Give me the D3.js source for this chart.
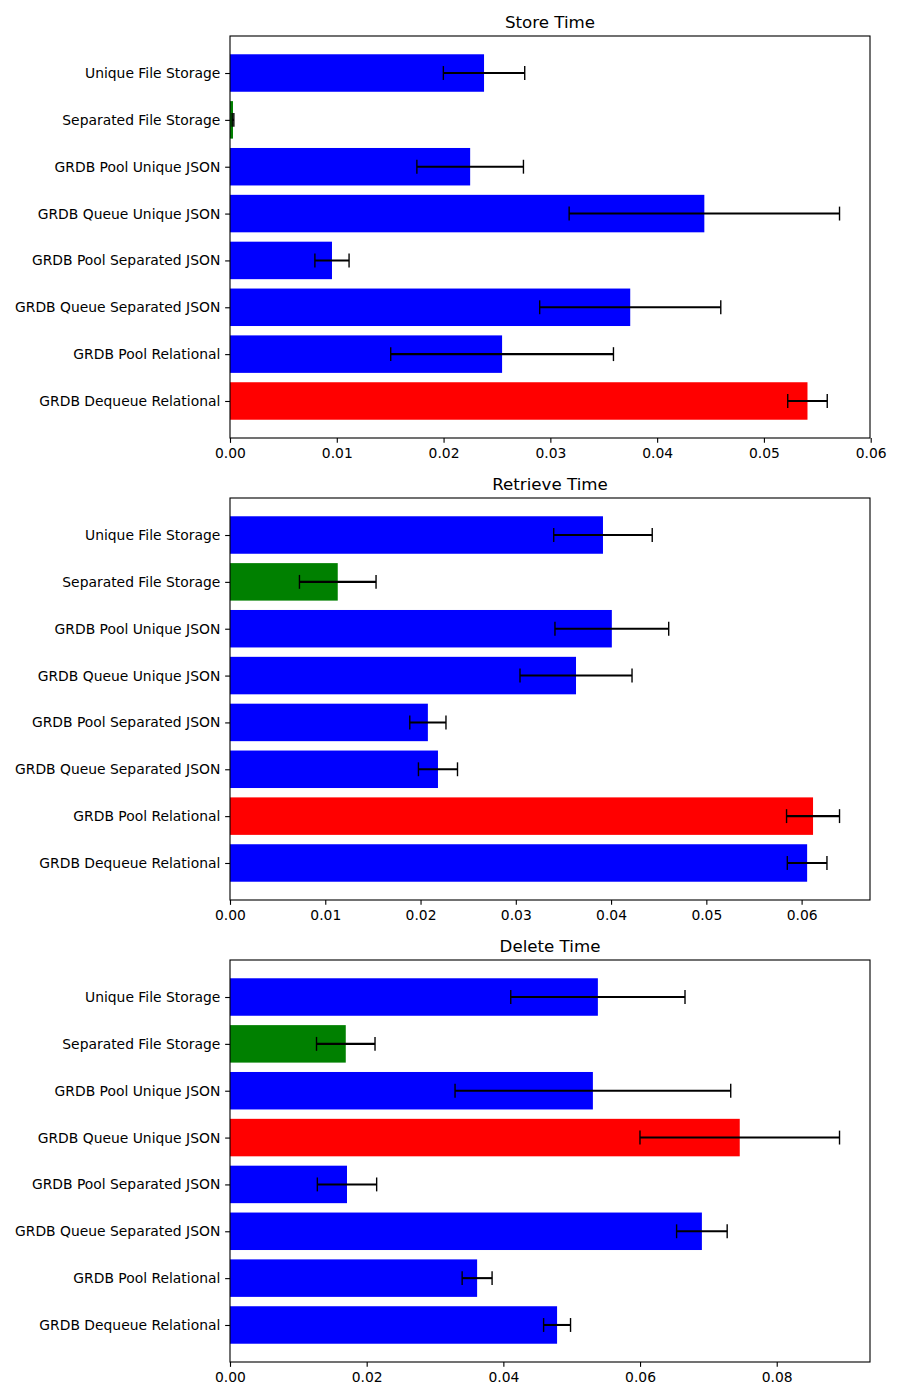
<!DOCTYPE html>
<html>
<head>
<meta charset="utf-8">
<script src="https://cdn.jsdelivr.net/npm/d3@7"></script>
<style>
  html, body { margin: 0; padding: 0; background: #fff; }
  svg { display: block; font-family: "DejaVu Sans", sans-serif; }
</style>
</head>
<body>
<svg id="chart" width="900" height="1400"></svg>
<script>
const categories = [
  "Unique File Storage",
  "Separated File Storage",
  "GRDB Pool Unique JSON",
  "GRDB Queue Unique JSON",
  "GRDB Pool Separated JSON",
  "GRDB Queue Separated JSON",
  "GRDB Pool Relational",
  "GRDB Dequeue Relational"
];

const titles = ["Store Time", "Retrieve Time", "Delete Time"];

const storeMeans = [0.02379, 0.00028, 0.02249, 0.04442, 0.00955, 0.03748, 0.02548, 0.05408];
const storeErrs  = [0.00381, 0.00008, 0.00499, 0.01266, 0.00160, 0.00848, 0.01043, 0.00185];

const retrieveMeans = [0.03915, 0.01131, 0.04008, 0.03632, 0.02077, 0.02183, 0.06120, 0.06058];
const retrieveErrs  = [0.00517, 0.00402, 0.00597, 0.00588, 0.00190, 0.00205, 0.00278, 0.00208];

const deleteMeans = [0.05383, 0.01694, 0.05310, 0.07459, 0.01712, 0.06905, 0.03616, 0.04786];
const deleteErrs  = [0.01275, 0.00428, 0.02017, 0.01460, 0.00434, 0.00370, 0.00219, 0.00197];

const storeTicks = [0, 0.01, 0.02, 0.03, 0.04, 0.05, 0.06];
const retrieveTicks = [0, 0.01, 0.02, 0.03, 0.04, 0.05, 0.06];
const deleteTicks = [0, 0.02, 0.04, 0.06, 0.08];

const panels = [
  { title: titles[0], means: storeMeans, errs: storeErrs, ticks: storeTicks, fmt: d3.format(".2f") },
  { title: titles[1], means: retrieveMeans, errs: retrieveErrs, ticks: retrieveTicks, fmt: d3.format(".2f") },
  { title: titles[2], means: deleteMeans, errs: deleteErrs, ticks: deleteTicks, fmt: d3.format(".2f") }
];

const svg = d3.select("#chart");
const left = 230, right = 870;
const tops = [36, 498, 960];
const axH = 402;
const fontPx = 13.89;
const tickLen = 4.86;

panels.forEach((p, pi) => {
  const top = tops[pi];
  const bottom = top + axH;
  const maxV = d3.max(p.means.map((m, i) => m + p.errs[i]));
  const x = d3.scaleLinear().domain([0, maxV * 1.05]).range([left, right]);
  const n = categories.length;
  const y = d3.scaleLinear().domain([-0.79, n - 1 + 0.79]).range([top, bottom]);

  const maxIdx = p.means.indexOf(d3.max(p.means));
  const minIdx = p.means.indexOf(d3.min(p.means));
  const color = i => i === maxIdx ? "#ff0000" : (i === minIdx ? "#008000" : "#0000ff");

  const g = svg.append("g");

  // bars
  g.selectAll("rect.bar").data(p.means).enter().append("rect")
    .attr("class", "bar")
    .attr("x", x(0))
    .attr("y", (d, i) => y(i - 0.4))
    .attr("width", d => x(d) - x(0))
    .attr("height", (d, i) => y(i + 0.4) - y(i - 0.4))
    .attr("fill", (d, i) => color(i));

  // error bars
  const eb = g.selectAll("g.err").data(p.means).enter().append("g").attr("class", "err");
  eb.append("line")
    .attr("x1", (d, i) => x(d - p.errs[i]))
    .attr("x2", (d, i) => x(d + p.errs[i]))
    .attr("y1", (d, i) => y(i)).attr("y2", (d, i) => y(i))
    .attr("stroke", "#000").attr("stroke-width", 2.08);
  [-1, 1].forEach(s => {
    eb.append("line")
      .attr("x1", (d, i) => x(d + s * p.errs[i]))
      .attr("x2", (d, i) => x(d + s * p.errs[i]))
      .attr("y1", (d, i) => y(i) - 6.95).attr("y2", (d, i) => y(i) + 6.95)
      .attr("stroke", "#000").attr("stroke-width", 1.39);
  });

  // x axis
  const xAxis = d3.axisBottom(x).tickValues(p.ticks).tickFormat(p.fmt)
    .tickSizeInner(tickLen).tickSizeOuter(0).tickPadding(4.86);
  const xg = g.append("g").attr("transform", `translate(0,${bottom})`).call(xAxis);
  xg.select(".domain").remove();
  xg.selectAll(".tick line").attr("stroke", "#000").attr("stroke-width", 1.11);
  xg.selectAll(".tick text").attr("fill", "#000").style("font-size", fontPx + "px")
    .style("font-family", "DejaVu Sans");

  // y axis
  const yAxis = d3.axisLeft(y).tickValues(d3.range(n)).tickFormat(i => categories[i])
    .tickSizeInner(tickLen).tickSizeOuter(0).tickPadding(4.86);
  const yg = g.append("g").attr("transform", `translate(${left},0)`).call(yAxis);
  yg.select(".domain").remove();
  yg.selectAll(".tick line").attr("stroke", "#000").attr("stroke-width", 1.11);
  yg.selectAll(".tick text").attr("fill", "#000").style("font-size", fontPx + "px")
    .style("font-family", "DejaVu Sans");

  // frame
  g.append("rect")
    .attr("x", left).attr("y", top)
    .attr("width", right - left).attr("height", axH)
    .attr("fill", "none").attr("stroke", "#000").attr("stroke-width", 1.11);

  // title
  g.append("text")
    .attr("x", (left + right) / 2).attr("y", top - 8.3)
    .attr("text-anchor", "middle")
    .style("font-size", "16.67px")
    .attr("fill", "#000")
    .text(p.title);
});
</script>
</body>
</html>
